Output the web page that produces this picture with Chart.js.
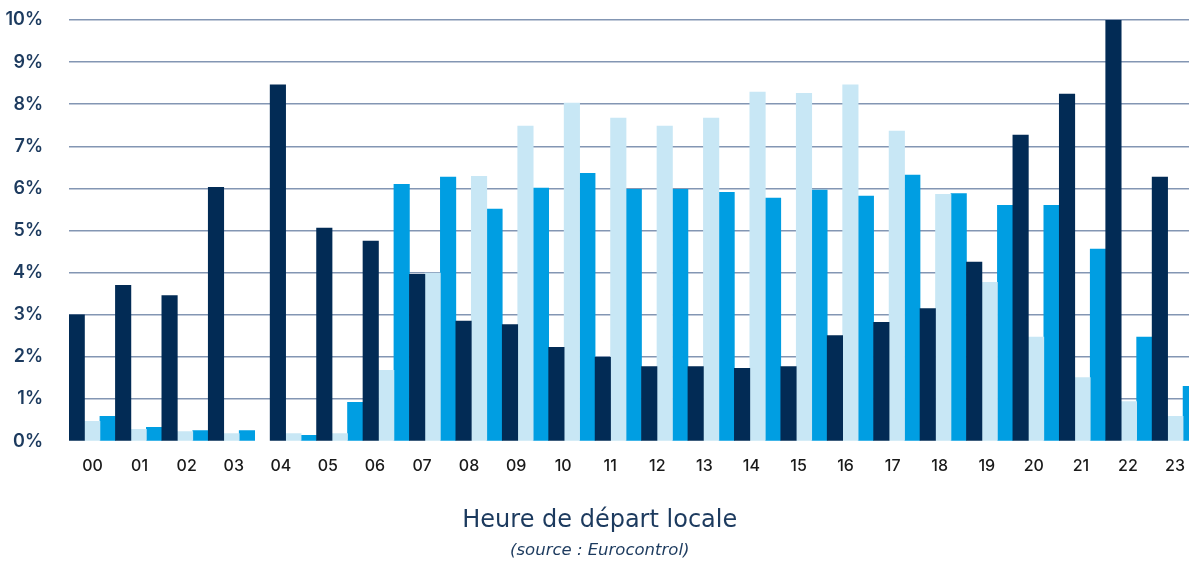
<!DOCTYPE html>
<html>
<head>
<meta charset="utf-8">
<script src="https://cdn.jsdelivr.net/npm/chart.js@4/dist/chart.umd.min.js"></script>
<style>
    html, body { margin: 0; padding: 0; background: #fff; overflow: hidden; }
    #wrap { width: 1189px; height: 562px; overflow: hidden; }
    canvas { display: block; }
</style>
</head>
<body>
<div id="wrap"><canvas id="departChart" width="1200" height="562"></canvas></div>
<script>
// Hourly share of departures (%), three series
const hours = ['00', '01', '02', '03', '04', '05', '06', '07', '08', '09', '10', '11',
               '12', '13', '14', '15', '16', '17', '18', '19', '20', '21', '22', '23'];
const darkValues = [3.00, 3.70, 3.46, 6.03, 8.46, 5.06, 4.75, 3.96, 2.85, 2.77, 2.23, 1.99,
                    1.77, 1.77, 1.73, 1.77, 2.51, 2.82, 3.15, 4.25, 7.27, 8.24, 10.0, 6.27];
const lightValues = [0.47, 0.28, 0.23, 0.18, 0.18, 0.18, 1.68, 3.99, 6.29, 7.48, 8.03, 7.67,
                     7.48, 7.67, 8.29, 8.26, 8.46, 7.36, 5.86, 3.77, 2.47, 1.51, 0.94, 0.59];
const mediumValues = [0.59, 0.33, 0.25, 0.25, 0.14, 0.92, 6.10, 6.27, 5.51, 6.01, 6.36, 5.98,
                      5.98, 5.91, 5.77, 5.96, 5.82, 6.32, 5.88, 5.60, 5.60, 4.56, 2.47, 1.30];
const yTickLabels = ['0%', '1%', '2%', '3%', '4%', '5%', '6%', '7%', '8%', '9%', '10%'];

document.addEventListener('DOMContentLoaded', function() {
    const fontFamily = 'Inter, "Noto Sans", sans-serif';
    const titleFamily = '"DejaVu Sans", sans-serif';
    const navy = '#1c3a5e';

    // Bars sit in narrow slots, three per hour; the reference skips one slot after 03
    const slotCount = hours.length * 3 + 1;
    const slotLabels = Array.from({ length: slotCount }, (_, i) => String(i));
    const slotOf = h => h * 3 + (h >= 4 ? 1 : 0);

    function placed(values, offset) {
        const arr = new Array(slotCount).fill(null);
        values.forEach((v, h) => { arr[slotOf(h) + offset] = v; });
        return arr;
    }

    const barDefaults = {
        grouped: false,
        barPercentage: 1,
        categoryPercentage: 1,
        borderWidth: 0,
        xAxisID: 'x'
    };

    const ctx = document.getElementById('departChart').getContext('2d');

    new Chart(ctx, {
        type: 'bar',
        data: {
            labels: slotLabels,
            datasets: [
                Object.assign({ label: 'Série 1', data: placed(darkValues, 0), backgroundColor: '#022b55' }, barDefaults),
                Object.assign({ label: 'Série 2', data: placed(lightValues, 1), backgroundColor: '#c8e7f5' }, barDefaults),
                Object.assign({ label: 'Série 3', data: placed(mediumValues, 2), backgroundColor: '#009ee2' }, barDefaults)
            ]
        },
        options: {
            responsive: false,
            animation: false,
            layout: { padding: { top: 20, right: 0.5, bottom: 1, left: 0 } },
            plugins: {
                legend: { display: false },
                tooltip: { enabled: false },
                title: {
                    display: true,
                    position: 'bottom',
                    weight: 1000,
                    text: 'Heure de départ locale',
                    color: navy,
                    font: { family: titleFamily, size: 24, weight: 'normal' },
                    padding: { top: 16, bottom: 0 }
                },
                subtitle: {
                    display: true,
                    position: 'bottom',
                    weight: 1500,
                    text: '(source : Eurocontrol)',
                    color: navy,
                    font: { family: titleFamily, size: 16.5, style: 'italic', weight: 'normal' },
                    padding: { top: 6, bottom: 0 }
                }
            },
            scales: {
                x: {
                    type: 'category',
                    display: false,
                    offset: true
                },
                x2: {
                    type: 'category',
                    labels: hours,
                    position: 'bottom',
                    offset: true,
                    grid: { display: false, drawTicks: false },
                    border: { display: false },
                    ticks: {
                        color: '#1a1a1a',
                        font: { family: fontFamily, size: 16, weight: '500' },
                        padding: 15,
                        autoSkip: false,
                        maxRotation: 0
                    }
                },
                y: {
                    min: 0,
                    max: 10,
                    grid: {
                        color: c => c.tick.value === 0 ? 'rgba(0,0,0,0)' : '#8396b3',
                        lineWidth: 1.5,
                        drawTicks: true,
                        tickLength: 26,
                        tickColor: 'rgba(0,0,0,0)'
                    },
                    border: { display: false },
                    ticks: {
                        stepSize: 1,
                        color: navy,
                        font: { family: fontFamily, size: 18, weight: '600' },
                        padding: 0,
                        callback: (v, i) => yTickLabels[i]
                    },
                    afterFit: function(scale) { scale.width = 69; }
                }
            }
        }
    });
});
</script>
</body>
</html>
